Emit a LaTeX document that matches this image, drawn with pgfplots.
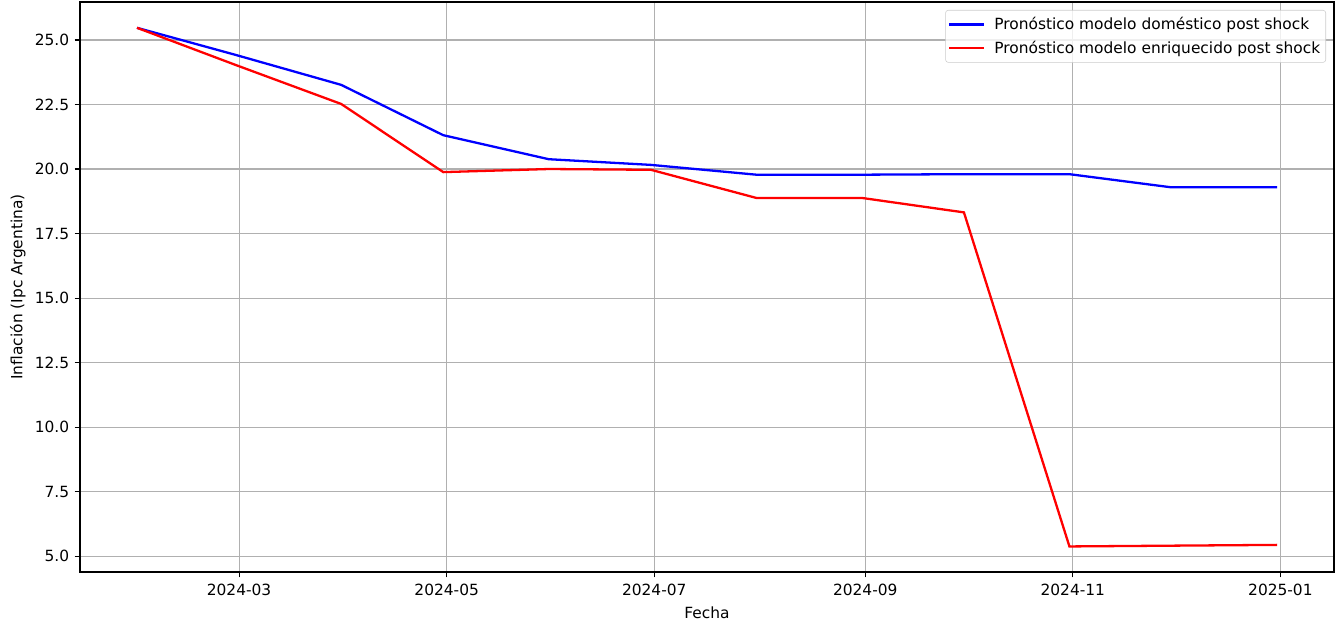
\documentclass[border=0pt]{standalone}
\usepackage{pgfplots}
\pgfplotsset{compat=1.18}
\usepackage{fontspec}
\setmainfont{DejaVu Sans}
\definecolor{gridc}{HTML}{B0B0B0}
\definecolor{legc}{HTML}{CCCCCC}
\begin{document}
\fontsize{11.1bp}{13.3bp}\selectfont
\begin{tikzpicture}
\begin{axis}[
  scale only axis,
  width=12.54in, height=5.70in,
  xmin=13.25, xmax=381.75,
  ymin=4.39, ymax=26.47,
  xtick={60,121,182,244,305,366},
  xticklabels={2024-03,2024-05,2024-07,2024-09,2024-11,2025-01},
  ytick={5,7.5,10,12.5,15,17.5,20,22.5,25},
  yticklabel style={/pgf/number format/.cd,fixed,fixed zerofill,precision=1},
  /pgf/number format/assume math mode=true,
  tick align=outside,
  major tick length=3.9bp,
  tick style={black, line width=0.85bp},
  xtick pos=bottom, ytick pos=left,
  grid=major,
  major grid style={gridc, line width=0.85bp},
  axis line style={black, line width=0.85bp},
  ticklabel style={font=\fontsize{11.1bp}{13.3bp}\selectfont},
  xticklabel style={yshift=-1bp},
  xlabel={Fecha},
  ylabel={Inflación (Ipc Argentina)},
  label style={font=\fontsize{11.1bp}{13.3bp}\selectfont},
  xlabel style={yshift=0bp},
  ylabel style={yshift=-1bp},
  legend style={at={(1,1)}, anchor=north east, xshift=-0.08in, yshift=-0.08in,
    draw=legc, rounded corners=2bp, fill=white, fill opacity=0.8, text opacity=1,
    font=\fontsize{11.1bp}{13.3bp}\selectfont, inner xsep=2bp, inner ysep=3bp,
    row sep=2.5bp},
  legend cell align=left,
  legend image code/.code={\draw[#1] (0in,0in) -- (0.35in,0in); \path (0.41in,0in);},
]
\addplot[blue, line width=1.65bp] coordinates {
(30,25.47) (59,24.42) (90,23.26) (120,21.31) (151,20.38) (181,20.16)
(212,19.78) (243,19.78) (273,19.80) (304,19.80) (334,19.29) (365,19.29)};
\addlegendentry{Pronóstico modelo doméstico post shock}
\addplot[red, line width=1.65bp] coordinates {
(30,25.47) (59,24.03) (90,22.52) (120,19.88) (151,20.00) (181,19.97)
(212,18.88) (243,18.88) (273,18.32) (304,5.38) (334,5.41) (365,5.44)};
\addlegendentry{Pronóstico modelo enriquecido post shock}
\end{axis}
\path ([xshift=-0.80in,yshift=-0.52in]current axis.south west) rectangle ([xshift=0.04in,yshift=0.02in]current axis.north east);
\end{tikzpicture}
\end{document}
